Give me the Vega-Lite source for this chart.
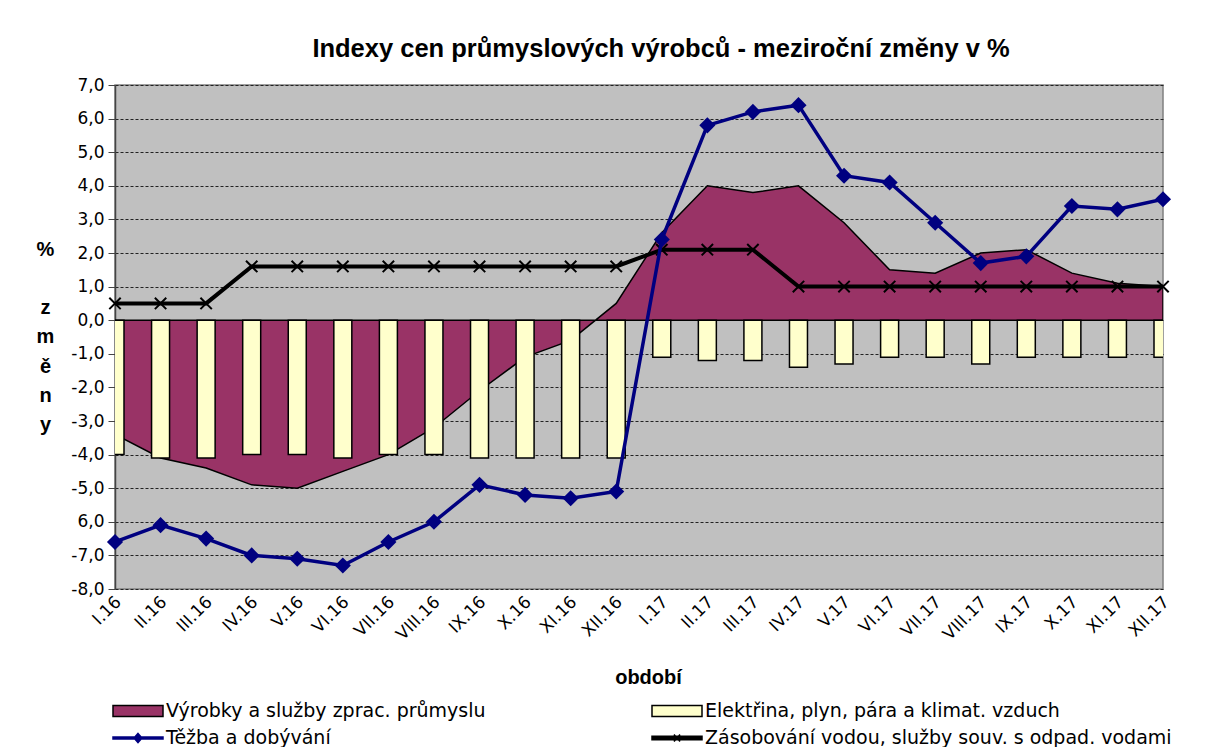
{
  "$schema": "https://vega.github.io/schema/vega-lite/v6.json",
  "autosize": {"type": "none"},
  "padding": {"left": 115, "top": 85, "right": 43, "bottom": 158},
  "width": 1048,
  "height": 504,
  "background": "white",
  "config": {
    "font": "DejaVu Sans",
    "view": {"fill": "#C0C0C0", "stroke": "#808080", "strokeWidth": 1.5},
    "axisY": {
      "labelOverlap": false,
      "labelFont": "DejaVu Sans",
      "labelFontSize": 17,
      "labelColor": "#000000",
      "labelPadding": 4,
      "tickSize": 7,
      "tickColor": "#444444",
      "domainColor": "#444444",
      "domainWidth": 1.5,
      "grid": true,
      "gridColor": "#222222",
      "gridDash": [3, 2],
      "gridWidth": 1,
      "titleFont": "Liberation Sans",
      "titleFontSize": 20,
      "titleFontWeight": "bold",
      "titleColor": "#000000",
      "titleAngle": 0,
      "titleAlign": "center",
      "titleBaseline": "alphabetic",
      "titleLineHeight": 29.3,
      "titleX": -70,
      "titleY": 170
    }
  },
  "title": {
    "text": "Indexy cen průmyslových výrobců - meziroční změny v %",
    "font": "Liberation Sans",
    "fontSize": 25.5,
    "fontWeight": "bold",
    "color": "#000000",
    "anchor": "middle",
    "frame": "group",
    "baseline": "alphabetic",
    "offset": -6,
    "dx": 22
  },
  "data": {
    "values": [
      {"m": "I.16", "vyr": -3.4, "ele": -4.0, "tez": -6.6, "vod": 0.5},
      {"m": "II.16", "vyr": -4.1, "ele": -4.1, "tez": -6.1, "vod": 0.5},
      {"m": "III.16", "vyr": -4.4, "ele": -4.1, "tez": -6.5, "vod": 0.5},
      {"m": "IV.16", "vyr": -4.9, "ele": -4.0, "tez": -7.0, "vod": 1.6},
      {"m": "V.16", "vyr": -5.0, "ele": -4.0, "tez": -7.1, "vod": 1.6},
      {"m": "VI.16", "vyr": -4.5, "ele": -4.1, "tez": -7.3, "vod": 1.6},
      {"m": "VII.16", "vyr": -4.0, "ele": -4.0, "tez": -6.6, "vod": 1.6},
      {"m": "VIII.16", "vyr": -3.2, "ele": -4.0, "tez": -6.0, "vod": 1.6},
      {"m": "IX.16", "vyr": -2.1, "ele": -4.1, "tez": -4.9, "vod": 1.6},
      {"m": "X.16", "vyr": -1.1, "ele": -4.1, "tez": -5.2, "vod": 1.6},
      {"m": "XI.16", "vyr": -0.6, "ele": -4.1, "tez": -5.3, "vod": 1.6},
      {"m": "XII.16", "vyr": 0.5, "ele": -4.1, "tez": -5.1, "vod": 1.6},
      {"m": "I.17", "vyr": 2.6, "ele": -1.1, "tez": 2.4, "vod": 2.1},
      {"m": "II.17", "vyr": 4.0, "ele": -1.2, "tez": 5.8, "vod": 2.1},
      {"m": "III.17", "vyr": 3.8, "ele": -1.2, "tez": 6.2, "vod": 2.1},
      {"m": "IV.17", "vyr": 4.0, "ele": -1.4, "tez": 6.4, "vod": 1.0},
      {"m": "V.17", "vyr": 2.9, "ele": -1.3, "tez": 4.3, "vod": 1.0},
      {"m": "VI.17", "vyr": 1.5, "ele": -1.1, "tez": 4.1, "vod": 1.0},
      {"m": "VII.17", "vyr": 1.4, "ele": -1.1, "tez": 2.9, "vod": 1.0},
      {"m": "VIII.17", "vyr": 2.0, "ele": -1.3, "tez": 1.7, "vod": 1.0},
      {"m": "IX.17", "vyr": 2.1, "ele": -1.1, "tez": 1.9, "vod": 1.0},
      {"m": "X.17", "vyr": 1.4, "ele": -1.1, "tez": 3.4, "vod": 1.0},
      {"m": "XI.17", "vyr": 1.1, "ele": -1.1, "tez": 3.3, "vod": 1.0},
      {"m": "XII.17", "vyr": 1.0, "ele": -1.1, "tez": 3.6, "vod": 1.0}
    ]
  },
  "encoding": {
    "x": {
      "field": "m",
      "type": "ordinal",
      "sort": null,
      "scale": {"type": "point", "padding": 0},
      "axis": {
        "title": "období",
        "titleFont": "Liberation Sans",
        "titleFontSize": 20,
        "titleFontWeight": "bold",
        "titleColor": "#000000",
        "titleX": 533,
        "titleY": 94,
        "titleBaseline": "alphabetic",
        "titleAlign": "center",
        "labelAngle": -45,
        "labelAlign": "right",
        "labelBaseline": "middle",
        "labelPadding": 10,
        "labelOffset": 3,
        "labelFontSize": 17,
        "labelColor": "#000000",
        "labelFont": "DejaVu Sans",
        "labelOverlap": false,
        "domain": false,
        "ticks": false,
        "grid": false
      }
    }
  },
  "layer": [
    {
      "mark": {"type": "area", "stroke": "#000000", "strokeWidth": 1.5, "clip": true, "opacity": 1},
      "encoding": {
        "y": {
          "field": "vyr",
          "type": "quantitative",
          "stack": null,
          "scale": {"domain": [-8, 7], "nice": false, "zero": false},
          "axis": {
            "values": [-8, -7, -6, -5, -4, -3, -2, -1, 0, 1, 2, 3, 4, 5, 6, 7],
            "tickCount": 16,
            "labelExpr": "datum.value === -6 ? '6,0' : replace(replace(format(datum.value, '.1f'), '.', ','), '−', '-')",
            "title": ["%", "\u200b", "z", "m", "ě", "n", "y"]
          }
        },
        "fill": {
          "datum": "Výrobky a služby zprac. průmyslu",
          "type": "nominal",
          "scale": {
            "domain": ["Výrobky a služby zprac. průmyslu", "Elektřina, plyn, pára a klimat. vzduch", "Těžba a dobývání", "Zásobování vodou, služby souv. s odpad. vodami"],
            "range": ["#993366", "#FFFFCC", "#000080", "#000000"]
          },
          "legend": {
            "title": null,
            "orient": "none",
            "legendX": -2,
            "legendY": 615,
            "direction": "horizontal",
            "columns": 2,
            "columnPadding": 163,
            "rowPadding": 6,
            "padding": 0,
            "labelFont": "DejaVu Sans",
            "labelFontSize": 19,
            "labelColor": "#000000",
            "labelOffset": 31,
            "labelLimit": 600,
            "symbolSize": 400,
            "symbolStrokeWidth": 1.5,
            "symbolOpacity": 1,
            "symbolType": {"expr": "datum.value === 'Těžba a dobývání' ? 'M-1.1,-0.1H3.9V0.1H-1.1Z M1.4,-0.45L1.8,0L1.4,0.45L1.0,0Z' : datum.value === 'Zásobování vodou, služby souv. s odpad. vodami' ? 'M-1.1,-0.18H3.9V0.18H-1.1Z M1.1,-0.35L1.7,0.35M1.7,-0.35L1.1,0.35' : 'M-1.1,-0.55H3.9V0.55H-1.1Z'"}
          }
        }
      }
    },
    {
      "mark": {"type": "bar", "size": 18, "stroke": "#000000", "strokeWidth": 1.5, "clip": true, "opacity": 1},
      "encoding": {
        "y": {
          "field": "ele", "type": "quantitative", "stack": null,
          "axis": {
            "values": [-8, -7, -6, -5, -4, -3, -2, -1, 0, 1, 2, 3, 4, 5, 6, 7],
            "tickCount": 16,
            "labelExpr": "datum.value === -6 ? '6,0' : replace(replace(format(datum.value, '.1f'), '.', ','), '−', '-')",
            "title": ["%", "\u200b", "z", "m", "ě", "n", "y"]
          }
        },
        "fill": {"datum": "Elektřina, plyn, pára a klimat. vzduch", "type": "nominal"}
      }
    },
    {
      "mark": {"type": "line", "strokeWidth": 4, "clip": true},
      "encoding": {
        "y": {
          "field": "vod", "type": "quantitative",
          "axis": {
            "values": [-8, -7, -6, -5, -4, -3, -2, -1, 0, 1, 2, 3, 4, 5, 6, 7],
            "tickCount": 16,
            "labelExpr": "datum.value === -6 ? '6,0' : replace(replace(format(datum.value, '.1f'), '.', ','), '−', '-')",
            "title": ["%", "\u200b", "z", "m", "ě", "n", "y"]
          }
        },
        "stroke": {
          "datum": "Zásobování vodou, služby souv. s odpad. vodami",
          "type": "nominal",
          "scale": {
            "domain": ["Výrobky a služby zprac. průmyslu", "Elektřina, plyn, pára a klimat. vzduch", "Těžba a dobývání", "Zásobování vodou, služby souv. s odpad. vodami"],
            "range": ["#000000", "#000000", "#000080", "#000000"]
          },
          "legend": {"orient": "none", "legendX": -2, "legendY": 615, "title": null}
        }
      }
    },
    {
      "mark": {"type": "point", "shape": "M-1,-1L1,1M1,-1L-1,1", "size": 130, "filled": false, "strokeWidth": 2, "opacity": 1},
      "encoding": {
        "y": {
          "field": "vod", "type": "quantitative",
          "axis": {
            "values": [-8, -7, -6, -5, -4, -3, -2, -1, 0, 1, 2, 3, 4, 5, 6, 7],
            "tickCount": 16,
            "labelExpr": "datum.value === -6 ? '6,0' : replace(replace(format(datum.value, '.1f'), '.', ','), '−', '-')",
            "title": ["%", "\u200b", "z", "m", "ě", "n", "y"]
          }
        },
        "stroke": {"datum": "Zásobování vodou, služby souv. s odpad. vodami", "type": "nominal"}
      }
    },
    {
      "mark": {"type": "line", "strokeWidth": 3.5, "clip": true},
      "encoding": {
        "y": {
          "field": "tez", "type": "quantitative",
          "axis": {
            "values": [-8, -7, -6, -5, -4, -3, -2, -1, 0, 1, 2, 3, 4, 5, 6, 7],
            "tickCount": 16,
            "labelExpr": "datum.value === -6 ? '6,0' : replace(replace(format(datum.value, '.1f'), '.', ','), '−', '-')",
            "title": ["%", "\u200b", "z", "m", "ě", "n", "y"]
          }
        },
        "stroke": {"datum": "Těžba a dobývání", "type": "nominal"}
      }
    },
    {
      "mark": {"type": "point", "shape": "diamond", "size": 260, "filled": true, "opacity": 1},
      "encoding": {
        "y": {
          "field": "tez", "type": "quantitative",
          "axis": {
            "values": [-8, -7, -6, -5, -4, -3, -2, -1, 0, 1, 2, 3, 4, 5, 6, 7],
            "tickCount": 16,
            "labelExpr": "datum.value === -6 ? '6,0' : replace(replace(format(datum.value, '.1f'), '.', ','), '−', '-')",
            "title": ["%", "\u200b", "z", "m", "ě", "n", "y"]
          }
        },
        "fill": {"datum": "Těžba a dobývání", "type": "nominal"}
      }
    }
  ]
}
